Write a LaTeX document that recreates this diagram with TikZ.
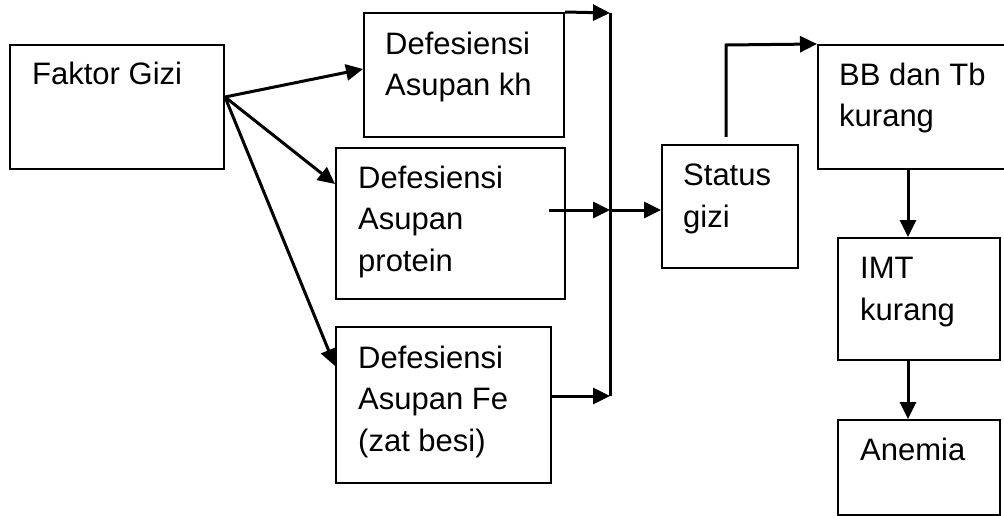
\documentclass[tikz,border=0pt]{standalone}
\usepackage{fontspec}
\setmainfont{Liberation Sans}
\usetikzlibrary{arrows.meta,calc}

\tikzset{
  box/.style={draw, line width=2pt, inner sep=0pt},
  % anchored at the baseline of the last line of the text
  lbl/.style={anchor=base west, inner sep=0pt, align=left,
    font=\fontsize{31}{41.5}\selectfont},
  conn/.style={line width=3pt},
  arr/.style={conn, -{Triangle[length=17pt,width=16pt]}},
}

% rectangle node from two corners (x1,y1) (x2,y2), y measured downwards
\newcommand{\boxat}[5]{%
  \node[box, minimum width={#4-#2}, minimum height={#5-#3}]
    (#1) at ({(#2+#4)/2},{-(#3+#5)/2}) {};}

\begin{document}
\begin{tikzpicture}[x=1pt,y=1pt]
\useasboundingbox (0,0) rectangle (1004,-516);

% boxes
\boxat{fg}{10}{45}{224}{169}
\boxat{kh}{364}{13}{564}{137}
\boxat{prot}{336}{148}{565}{299}
\boxat{fe}{336}{327}{551}{483}
\boxat{st}{662}{145}{798}{268}
\boxat{bb}{818}{45}{1008}{169}
\boxat{imt}{838}{238}{1000}{360}
\boxat{an}{838}{420}{1000}{515}

% texts
\node[lbl] (tfg) at (32,-85) {Faktor Gizi};
\node[lbl] (tkh) at (385,-96) {Defesiensi\\Asupan kh};
\node[lbl] (tprot) at (358,-271) {Defesiensi\\Asupan\\protein};
\node[lbl] (tfe) at (358,-451) {Defesiensi\\Asupan Fe\\(zat besi)};
\node[lbl] (tst) at (683,-227) {Status\\gizi};
\node[lbl] (tbb) at (839,-127) {BB dan Tb\\kurang};
\node[lbl] (timt) at (860,-320) {IMT\\kurang};
\node[lbl] (tan) at (860,-460) {Anemia};

% connection points
\coordinate (fgout) at ($(fg.north east)+(0,-53)$);
\coordinate (khin) at ($(kh.north west)+(0,-57)$);
\coordinate (protin) at ($(prot.north west)+(0,-37)$);
\coordinate (fein) at ($(fe.north west)+(0,-40)$);
\coordinate (bustop) at (610,-13);
\coordinate (busmid) at (610,-210);
\coordinate (busbot) at (610,-396);
\coordinate (protout) at (549,-210);
\coordinate (feout) at (fe.east |- busbot);
\coordinate (stout) at (726,-137);
\coordinate (stbend) at (726,-45);

% Faktor Gizi fan-out
\draw[arr] (fgout) -- (khin);
\draw[arr] (fgout) -- (protin);
\draw[arr] (fgout) -- (fein);

% collecting bus
\draw[arr] (kh.north east) -- (bustop);
\draw[conn] (bustop) -- (busbot);
\draw[arr] (protout) -- (busmid);
\draw[arr] (feout) -- (busbot);
\draw[arr] (busmid) -- (st.west |- busmid);

% right column
\draw[arr] (stout) -- (stbend) -- (bb.north west);
\draw[arr] (bb.south -| 908,0) -- (imt.north -| 908,0);
\draw[arr] (imt.south -| 908,0) -- (an.north -| 908,0);
\end{tikzpicture}
\end{document}
